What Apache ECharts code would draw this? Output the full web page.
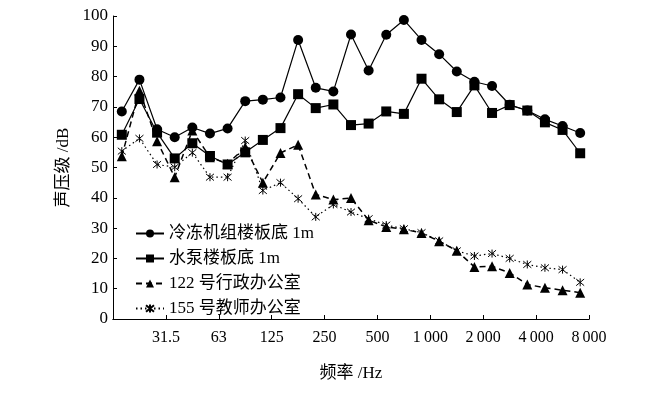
<!DOCTYPE html>
<html><head><meta charset="utf-8">
<script src="https://cdn.jsdelivr.net/npm/echarts@6/dist/echarts.min.js"></script>
<style>html,body{margin:0;padding:0;background:#fff}#c{width:670px;height:393px}</style>
</head><body><div id="c"></div>
<script>
// 1/3 octave bands, Hz
const bands = ['20','25','31.5','40','50','63','80','100','125','160','200','250','315','400','500','630','800','1000','1250','1600','2000','2500','3150','4000','5000','6300','8000'];
const tickLabels = ['', '31.5', '63', '125', '250', '500', '1\u2009000', '2\u2009000', '4\u2009000', '8\u2009000'];
const seriesNames = ['冷冻机组楼板底 1m', '水泵楼板底 1m', '122 号行政办公室', '155 号教师办公室'];
const chiller = [68.5,79.0,62.6,60.0,63.2,61.2,62.9,71.9,72.4,73.1,92.1,76.3,75.1,93.9,82.0,93.8,98.7,92.1,87.4,81.7,78.3,76.9,70.7,68.8,65.9,63.7,61.4];
const pump    = [60.8,72.6,61.5,53.0,58.0,53.8,51.0,55.0,59.1,63.0,74.2,69.6,70.8,64.0,64.5,68.5,67.7,79.3,72.5,68.3,77.1,68.0,70.6,68.8,64.9,62.4,54.7];
const room122 = [53.7,75.3,58.7,46.8,62.2,53.4,51.2,56.7,45.0,54.8,57.5,41.1,39.4,39.9,32.6,30.4,29.6,28.4,25.7,22.5,17.2,17.4,15.2,11.4,10.3,9.5,8.7];
const room155 = [55.4,59.6,51.0,50.1,54.9,46.8,46.8,58.9,42.4,45.0,39.7,33.7,37.8,35.3,33.1,31.0,29.8,28.5,25.8,22.5,20.8,21.6,20.0,18.0,16.9,16.3,12.1];

const FONT = '"Liberation Serif", "Times New Roman", "Noto Sans CJK SC", serif';
const asterisk = 'path://M0,0L10,10M10,0L0,10M5,-1L5,11';

const chart = echarts.init(document.getElementById('c'), null, {renderer: 'canvas'});
const base = {type: 'line', xAxisIndex: 0, yAxisIndex: 0, animation: false, symbolSize: 10,
  itemStyle: {color: '#000'}, emphasis: {disabled: true}};
chart.setOption({
  backgroundColor: '#fff',
  textStyle: {fontFamily: FONT, color: '#000'},
  grid: {left: 113, right: 81, top: 16, bottom: 74, containLabel: false},
  legend: {
    left: 130, top: 220, orient: 'vertical', itemWidth: 28, itemHeight: 10, itemGap: 8,
    textStyle: {fontFamily: FONT, fontSize: 17, color: '#000'},
    data: seriesNames
  },
  xAxis: [
    {type: 'category', data: bands, boundaryGap: true, position: 'bottom',
     axisLine: {show: true, lineStyle: {color: '#000', width: 1}},
     axisTick: {show: false}, axisLabel: {show: false}, splitLine: {show: false}},
    {type: 'value', min: 0, max: 27, interval: 3, position: 'bottom',
     name: '频率 /Hz', nameLocation: 'middle', nameGap: 46,
     nameTextStyle: {fontFamily: FONT, fontSize: 17, color: '#000'},
     axisLine: {show: true, lineStyle: {color: '#000', width: 1}},
     axisTick: {show: true, inside: true, length: 4, lineStyle: {color: '#000'}},
     axisLabel: {fontFamily: FONT, fontSize: 16, color: '#000', margin: 11,
       formatter: (v) => tickLabels[Math.round(v / 3)] || ''},
     splitLine: {show: false}}
  ],
  yAxis: {
    type: 'value', min: 0, max: 100, interval: 10,
    name: '声压级 /dB', nameLocation: 'middle', nameGap: 35, nameRotate: 90,
    nameTextStyle: {fontFamily: FONT, fontSize: 17, color: '#000'},
    axisLine: {show: true, lineStyle: {color: '#000', width: 1}},
    axisTick: {show: true, inside: true, length: 4, lineStyle: {color: '#000'}},
    axisLabel: {fontFamily: FONT, fontSize: 17, color: '#000', margin: 5},
    splitLine: {show: false}
  },
  series: [
    Object.assign({}, base, {name: seriesNames[0], data: chiller, symbol: 'circle',
      lineStyle: {color: '#000', width: 1.2, type: 'solid'}}),
    Object.assign({}, base, {name: seriesNames[1], data: pump, symbol: 'rect',
      lineStyle: {color: '#000', width: 1.2, type: 'solid'}}),
    Object.assign({}, base, {name: seriesNames[2], data: room122, symbol: 'triangle',
      lineStyle: {color: '#000', width: 1.5, type: [6, 4]}}),
    Object.assign({}, base, {name: seriesNames[3], data: room155, symbol: asterisk, symbolSize: 8,
      itemStyle: {color: 'rgba(0,0,0,0)', borderColor: '#000', borderWidth: 1},
      lineStyle: {color: '#000', width: 1.2, type: [1.5, 3]}})
  ]
});
</script></body></html>
